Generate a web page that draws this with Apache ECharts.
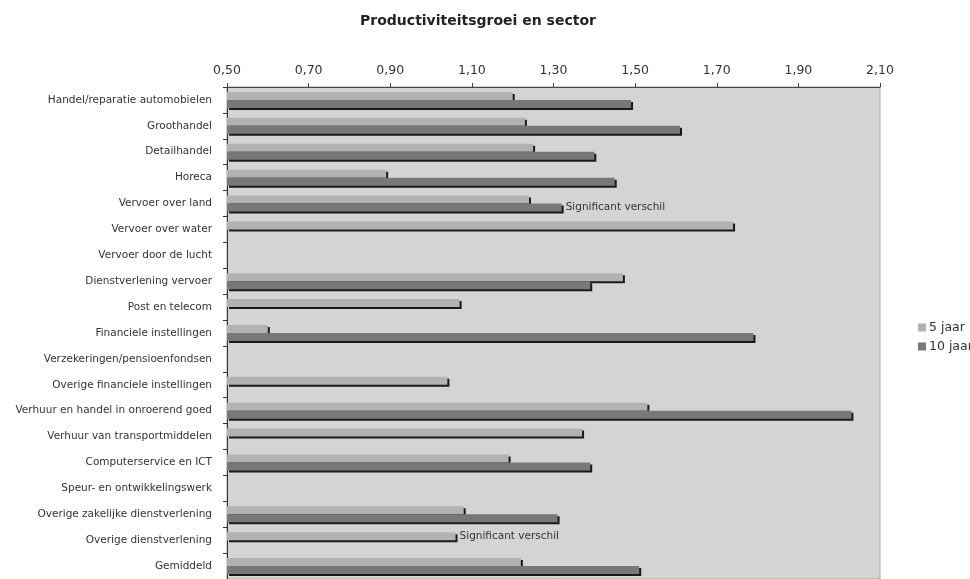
<!DOCTYPE html>
<html>
<head>
<meta charset="utf-8">
<script src="https://cdn.jsdelivr.net/npm/echarts@6/dist/echarts.min.js"></script>
<style>
  html, body { margin: 0; padding: 0; background: #fff; }
  #chart { width: 970px; height: 579px; }
</style>
</head>
<body>
<div id="chart"></div>
<script>
// sectoren, van boven naar beneden
const sectors = [
  'Handel/reparatie automobielen',
  'Groothandel',
  'Detailhandel',
  'Horeca',
  'Vervoer over land',
  'Vervoer over water',
  'Vervoer door de lucht',
  'Dienstverlening vervoer',
  'Post en telecom',
  'Financiele instellingen',
  'Verzekeringen/pensioenfondsen',
  'Overige financiele instellingen',
  'Verhuur en handel in onroerend goed',
  'Verhuur van transportmiddelen',
  'Computerservice en ICT',
  'Speur- en ontwikkelingswerk',
  'Overige zakelijke dienstverlening',
  'Overige dienstverlening',
  'Gemiddeld'
]
const jaar5 = [1.20, 1.23, 1.25, 0.89, 1.24, 1.74, null, 1.47, 1.07, 0.60, null, 1.04, 1.53, 1.37, 1.19, null, 1.08, 1.06, 1.22]
const jaar10 = [1.49, 1.61, 1.40, 1.45, 1.32, null, null, 1.39, null, 1.79, null, null, 2.03, null, 1.39, null, 1.31, null, 1.51]
// waar staat "Significant verschil"
const sig5 = ['Overige dienstverlening']
const sig10 = ['Vervoer over land']

const FONT = 'DejaVu Sans'

function buildData(values, sigList) {
  return values.map((v, i) => {
    if (sigList.indexOf(sectors[i]) >= 0) {
      return {
        value: v,
        label: {
          show: true,
          position: 'right',
          distance: 4,
          formatter: 'Significant verschil',
          fontFamily: FONT,
          fontSize: 10.5,
          color: '#333'
        }
      }
    }
    return v
  })
}

const chart = echarts.init(document.getElementById('chart'))
const option = {
  animation: false,
  backgroundColor: '#fff',
  title: {
    text: 'Productiviteitsgroei en sector',
    left: 473,
    top: 9,
    textAlign: 'center',
    textStyle: {
      fontFamily: FONT,
      fontSize: 14,
      fontWeight: 'bold',
      color: '#222'
    }
  },
  legend: {
    orient: 'vertical',
    left: 913,
    top: 316,
    itemWidth: 8,
    itemHeight: 8,
    itemGap: 6,
    icon: 'rect',
    textStyle: { fontFamily: FONT, fontSize: 12.5, color: '#333', padding: [0, 0, 0, -2] },
    data: ['5 jaar', '10 jaar']
  },
  grid: {
    left: 227,
    top: 87,
    width: 653,
    height: 494,
    show: true,
    backgroundColor: '#d3d4d6',
    borderColor: '#a5a5a5',
    borderWidth: 1
  },
  xAxis: {
    type: 'value',
    position: 'top',
    min: 0.5,
    max: 2.1,
    interval: 0.2,
    axisLine: { show: true, lineStyle: { color: '#444', width: 1 } },
    axisTick: { show: true, length: 4, lineStyle: { color: '#444' } },
    splitLine: { show: false },
    axisLabel: {
      margin: 10,
      fontFamily: FONT,
      fontSize: 12.5,
      color: '#333',
      formatter: v => v.toFixed(2).replace('.', ',')
    }
  },
  yAxis: {
    type: 'category',
    inverse: true,
    data: sectors,
    axisLine: { show: true, lineStyle: { color: '#333', width: 1 } },
    axisTick: { show: true, length: 4, lineStyle: { color: '#333' } },
    axisLabel: {
      margin: 15,
      padding: [4, 0, 0, 0],
      fontFamily: FONT,
      fontSize: 10.5,
      color: '#333'
    }
  },
  series: [
    {
      name: '5 jaar',
      type: 'bar',
      barWidth: 8,
      barGap: '0%',
      data: buildData(jaar5, sig5),
      itemStyle: {
        color: '#b1b2b3',
        shadowColor: '#1a1a1a',
        shadowOffsetX: 2,
        shadowOffsetY: 2,
        shadowBlur: 0
      }
    },
    {
      name: '10 jaar',
      type: 'bar',
      barWidth: 8,
      barGap: '0%',
      data: buildData(jaar10, sig10),
      itemStyle: {
        color: '#77787a',
        shadowColor: '#1a1a1a',
        shadowOffsetX: 2,
        shadowOffsetY: 2,
        shadowBlur: 0
      }
    }
  ]
}
chart.setOption(option)
</script>
</body>
</html>
